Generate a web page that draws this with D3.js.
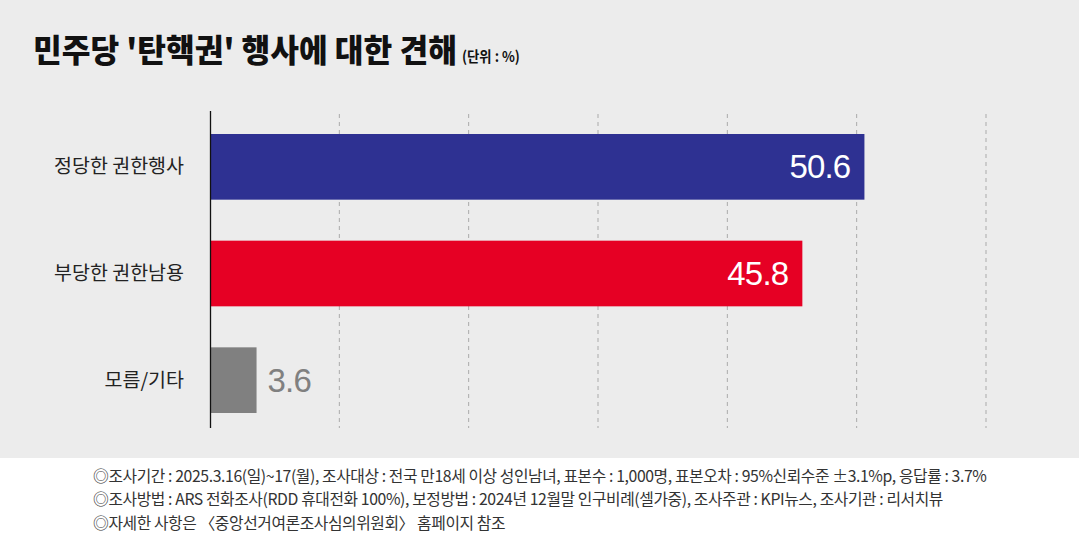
<!DOCTYPE html>
<html><head><meta charset="utf-8">
<script src="https://cdn.jsdelivr.net/npm/d3@7"></script>
<style>
html,body{margin:0;padding:0;background:#fff;}
svg{display:block;}
</style></head>
<body>
<script>
const categories = ["정당한 권한행사", "부당한 권한남용", "모름/기타"];
const values = [50.6, 45.8, 3.6];
const colors = ["#2e3192", "#e60024", "#808080"];
const gridTicks = [10, 20, 30, 40, 50, 60];
const title = "민주당 '탄핵권' 행사에 대한 견해";
const unit = "(단위 : %)";
const notes = [
  "◎조사기간 : 2025.3.16(일)~17(월), 조사대상 : 전국 만18세 이상 성인남녀, 표본수 : 1,000명, 표본오차 : 95%신뢰수준 ±3.1%p, 응답률 : 3.7%",
  "◎조사방법 : ARS 전화조사(RDD 휴대전화 100%), 보정방법 : 2024년 12월말 인구비례(셀가중), 조사주관 : KPI뉴스, 조사기관 : 리서치뷰",
  "◎자세한 사항은 〈중앙선거여론조사심의위원회〉 홈페이지 참조"
];

const KR = "'Noto Sans CJK KR','Noto Sans',sans-serif";
const W = 1079, H = 540;
const svg = d3.select("body").append("svg").attr("width", W).attr("height", H)
  .style("font-family", KR);
svg.append("rect").attr("width", W).attr("height", 458).attr("fill", "#ececec");

// title, fitted to the reference span
const tg = svg.append("g");
const tt = tg.append("text").attr("x", 0).attr("y", 0).attr("font-size", 32).attr("font-weight", 900)
  .attr("fill", "#111").text(title);
const tw = tt.node().getComputedTextLength();
tg.attr("transform", `translate(33,62) scale(${424 / tw},1)`);
const ug = svg.append("g");
const ut = ug.append("text").attr("x", 0).attr("y", 0).attr("font-size", 15).attr("font-weight", 700)
  .attr("fill", "#111").text(unit);
const uw = ut.node().getComputedTextLength();
ug.attr("transform", `translate(462,62) scale(${58 / uw},1)`);

const x = d3.scaleLinear().domain([0, 60]).range([210, 986]);
const y = d3.scaleBand().domain(categories).range([117, 429]).paddingInner(0.375).paddingOuter(0.15);

// gridlines
svg.append("g").selectAll("line").data(gridTicks).join("line")
  .attr("x1", d => x(d)).attr("x2", d => x(d))
  .attr("y1", 114).attr("y2", 428)
  .attr("stroke", "#aaa").attr("stroke-width", 1).attr("stroke-dasharray", "4,4");

// bars
svg.append("g").selectAll("rect").data(values).join("rect")
  .attr("x", x(0)).attr("y", (d, i) => y(categories[i]) + 1)
  .attr("width", d => x(d) - x(0)).attr("height", y.bandwidth() - 1)
  .attr("fill", (d, i) => colors[i]);

// axis line
svg.append("line").attr("x1", 210.5).attr("x2", 210.5).attr("y1", 111).attr("y2", 428)
  .attr("stroke", "#111").attr("stroke-width", 1.3);

// category labels
svg.append("g").selectAll("text").data(categories).join("text")
  .attr("x", 184).attr("y", d => y(d) + y.bandwidth() / 2 + 7)
  .attr("text-anchor", "end").attr("font-size", 19.5).attr("fill", "#222").text(d => d);

// value labels
svg.append("g").selectAll("text").data(values).join("text")
  .attr("x", d => d > 10 ? x(d) - 14 : x(d) + 11)
  .attr("y", (d, i) => y(categories[i]) + y.bandwidth() / 2 + 12)
  .attr("text-anchor", d => d > 10 ? "end" : "start")
  .style("font-family", "'Liberation Sans', Arial, sans-serif")
  .attr("font-size", 33).attr("letter-spacing", -0.8)
  .attr("fill", d => d > 10 ? "#fff" : "#808080").text(d => d.toFixed(1));

// notes
const ng = svg.append("g");
ng.selectAll("text").data(notes).join("text")
  .attr("x", 0).attr("y", (d, i) => 482 + i * 23.5)
  .attr("font-size", 16).attr("fill", "#333").attr("letter-spacing", -0.4).text(d => d)
  .each(function(d, i){
    if (i === 0) {
      const w = this.getComputedTextLength();
      const s = (987 - 93) / w;
      ng.attr("transform", `translate(93,0) scale(${s},1)`);
    }
  });
</script>
</body></html>
